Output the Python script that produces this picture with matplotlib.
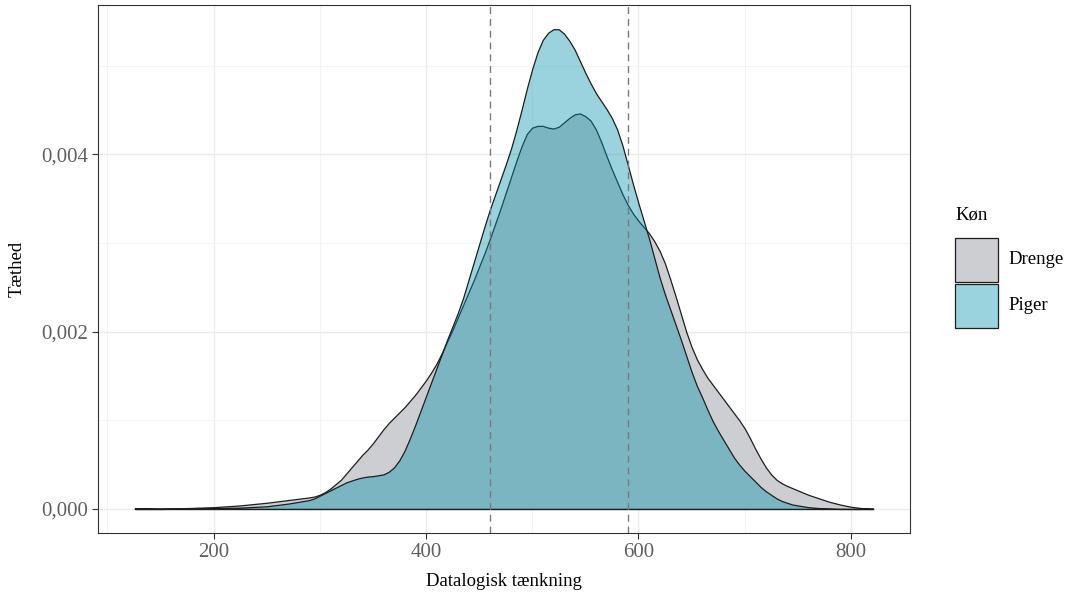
import numpy as np
import matplotlib
matplotlib.use("Agg")
import matplotlib.pyplot as plt
from matplotlib.patches import Rectangle

plt.rcParams['font.family'] = ['Liberation Serif', 'DejaVu Serif']

# score grid (Datalogisk taenkning) and densities (x 1e-3)
score = [126, 150, 175, 200, 225, 250, 270,
         290, 295, 300, 305, 310, 315, 320, 325, 330, 335, 340, 345, 350, 355,
         360, 365, 370, 375, 380, 385, 390, 395, 400, 405, 410, 415, 420, 425,
         430, 435, 440, 445, 450, 455, 460, 465, 470, 475, 480, 485, 490, 495,
         500, 505, 510, 515, 520, 525, 530, 535, 540, 545, 550, 555, 560, 565,
         570, 575, 580, 585, 590, 595, 600, 605, 610, 615, 620, 625, 630, 635,
         640, 645, 650, 655, 660, 665, 670, 675, 680, 685, 690, 695, 700, 705,
         710, 715, 720, 725, 730, 735, 740, 745, 750, 755, 760,
         770, 780, 790, 800, 810, 821]
drenge = [0.01, 0.005, 0.01, 0.02, 0.04, 0.07, 0.10,
          0.13, 0.14, 0.16, 0.19, 0.23, 0.28, 0.33, 0.40, 0.47, 0.54, 0.61, 0.67, 0.74, 0.82,
          0.90, 0.97, 1.03, 1.09, 1.15, 1.22, 1.29, 1.37, 1.45, 1.54, 1.64, 1.76, 1.89, 2.02,
          2.16, 2.30, 2.44, 2.58, 2.73, 2.88, 3.04, 3.21, 3.38, 3.56, 3.74, 3.92, 4.09, 4.23,
          4.30, 4.32, 4.32, 4.30, 4.29, 4.31, 4.36, 4.41, 4.45, 4.46, 4.43, 4.38, 4.28, 4.14,
          3.98, 3.83, 3.69, 3.55, 3.43, 3.33, 3.25, 3.18, 3.11, 3.02, 2.91, 2.77, 2.59, 2.40,
          2.20, 2.00, 1.83, 1.69, 1.58, 1.48, 1.40, 1.32, 1.24, 1.16, 1.08, 1.00, 0.91, 0.80,
          0.68, 0.57, 0.47, 0.39, 0.33, 0.29, 0.26, 0.235, 0.21, 0.185, 0.16,
          0.12, 0.08, 0.05, 0.025, 0.01, 0.005]
piger = [0.0, 0.0, 0.005, 0.01, 0.015, 0.03, 0.06,
         0.10, 0.12, 0.15, 0.18, 0.21, 0.24, 0.27, 0.30, 0.32, 0.34, 0.355, 0.365, 0.37, 0.38,
         0.39, 0.42, 0.47, 0.55, 0.66, 0.80, 0.95, 1.11, 1.27, 1.43, 1.59, 1.75, 1.91, 2.06,
         2.21, 2.38, 2.58, 2.78, 2.98, 3.18, 3.37, 3.54, 3.71, 3.88, 4.06, 4.27, 4.50, 4.74,
         4.96, 5.15, 5.29, 5.37, 5.41, 5.41, 5.36, 5.28, 5.18, 5.05, 4.92, 4.80, 4.69, 4.60,
         4.51, 4.41, 4.28, 4.10, 3.88, 3.66, 3.45, 3.25, 3.05, 2.83, 2.61, 2.42, 2.25, 2.08,
         1.91, 1.73, 1.55, 1.39, 1.26, 1.12, 0.99, 0.88, 0.78, 0.68, 0.58, 0.50, 0.43, 0.37,
         0.31, 0.25, 0.20, 0.16, 0.12, 0.09, 0.07, 0.05, 0.04, 0.03, 0.02,
         0.01, 0.005, 0.0, 0.0, 0.0, 0.0]
cutoffs = [460, 590]
groups = ['Drenge', 'Piger']

x = np.array(score, dtype=float)
yd = np.array(drenge) * 1e-3
yp = np.array(piger) * 1e-3

grey_fill = (0.804, 0.808, 0.824, 1.0)
teal_fill = (0.01, 0.57, 0.675, 0.40)
edge = '#1e1e1e'

fig = plt.figure(figsize=(10.74, 5.94), dpi=100)
ax = fig.add_axes([98/1074, 61/594, 812/1074, 528/594])

ax.fill_between(x, 0, yd, facecolor=grey_fill, edgecolor=edge, linewidth=0.9, zorder=2)
ax.fill_between(x, 0, yp, facecolor=teal_fill, edgecolor=edge, linewidth=0.9, zorder=3)
for c in cutoffs:
    ax.axvline(c, color='#7a7a7a', linestyle=(0, (5, 3.5)), linewidth=1.0, zorder=4)

ax.set_xlim(91.25, 855.75)
ax.set_ylim(-0.000271, 0.005683)
ax.set_xticks([200, 400, 600, 800])
ax.set_xticks([100, 300, 500, 700], minor=True)
ax.set_yticks([0, 0.002, 0.004])
ax.set_yticks([0.001, 0.003, 0.005], minor=True)
ax.set_yticklabels([f'{v:.3f}'.replace('.', ',') for v in [0, 0.002, 0.004]])
ax.grid(which='major', color='#ebebeb', linewidth=1.0, zorder=0)
ax.grid(which='minor', color='#f3f3f3', linewidth=0.6, zorder=0)
ax.set_axisbelow(True)
ax.tick_params(which='major', length=4, width=0.8, color='#333333',
               labelsize=15, labelcolor='#606060', pad=3)
ax.tick_params(which='minor', length=0)
for s in ax.spines.values():
    s.set_color('#333333')
    s.set_linewidth(0.8)

ax.set_xlabel('Datalogisk tænkning', fontsize=13.5, labelpad=8)
ax.set_ylabel('Tæthed', fontsize=13.5, labelpad=11)

# legend drawn by hand in pixel positions
W, H = 1074, 594
fig.text(955/W, 1 - 215/H, 'Køn', fontsize=13.5, va='center', ha='left')
for i, (lab, fc) in enumerate(zip(groups, [grey_fill, teal_fill])):
    top = 238 + i * 46
    fig.add_artist(Rectangle((955/W, 1 - (top + 44)/H), 43/W, 44/H,
                             transform=fig.transFigure, facecolor=fc,
                             edgecolor=edge, linewidth=0.9))
    fig.text(1008/W, 1 - (top + 22)/H, lab, fontsize=13.5, va='center', ha='left')

fig.savefig('out.png', dpi=100)
